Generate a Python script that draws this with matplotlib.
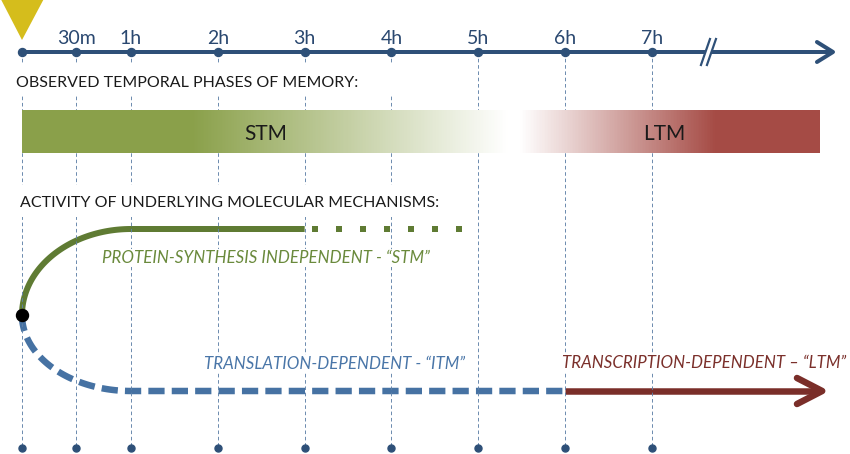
import numpy as np
import matplotlib.pyplot as plt
from matplotlib.colors import to_rgb

# time axis (hours) and labels
tick_hours = [0, 0.5, 1, 2, 3, 4, 5, 6, 7]
tick_labels = ['', '30m', '1h', '2h', '3h', '4h', '5h', '6h', '7h']

# memory phases shown in the gradient bar
phase_labels = ['STM', 'LTM']
phase_hours = [2.55, 7.14]
bar_end = 8.94

# molecular mechanisms (hours)
stm_solid_end = 3.0
stm_dotted_end = 4.88
itm_end = 6.0
ltm_end = 8.96

AXIS = '#2E5078'
GREEN = '#5F7B33'
BLUE = '#4672A3'
RED = '#7A2E29'
BAR_GREEN = '#8AA04A'
BAR_RED = '#A54B45'

PX = 0.72  # points per pixel at 100 dpi


def fwd(h):
    # first hour is drawn wider than the rest
    h = np.asarray(h, dtype=float)
    return np.where(h < 1, 22 + 109 * h, 131 + 86.83 * (h - 1))


def inv(p):
    p = np.asarray(p, dtype=float)
    return np.where(p < 131, (p - 22) / 109, 1 + (p - 131) / 86.83)


plt.rcParams['font.family'] = ['Lato', 'DejaVu Sans']

fig = plt.figure(figsize=(8.5, 4.54), dpi=100)
ax = fig.add_axes([0, 0, 1, 1])
ax.set_xscale('function', functions=(fwd, inv))
ax.set_xlim(float(inv(0)), float(inv(850)))
ax.set_ylim(454, 0)
ax.axis('off')

# start marker
ax.fill([-0.19, 0.195, 0], [0, 0, 40], color='#D5BD1C', lw=0, zorder=5)

# top time axis
ax.plot([0, 9.07], [52, 52], color=AXIS, lw=4 * PX, solid_capstyle='butt', zorder=4)
ax.plot([8.90, 9.085, 8.90], [42, 52, 62], color=AXIS, lw=4 * PX,
        solid_capstyle='round', solid_joinstyle='round', zorder=4)
ax.fill([7.564, 7.668, 7.737, 7.633], [65, 39, 39, 65], color='white', lw=0, zorder=5)
for dx in (0, 0.069):
    ax.plot([7.564 + dx, 7.668 + dx], [65, 39], color=AXIS, lw=2.2 * PX, zorder=6)
ax.plot(tick_hours, [52] * len(tick_hours), 'o', color=AXIS, ms=8 * PX, zorder=6)
for h, lab in zip(tick_hours, tick_labels):
    ax.text(h, 44, lab, ha='center', va='baseline', fontsize=14, color='#2A4870')

# vertical guide lines and bottom dots
ax.vlines(tick_hours, 52, 448, color='#5F81A8', lw=0.9 * PX,
          linestyles=(0, (4, 3)), zorder=3)
ax.plot(tick_hours, [448] * len(tick_hours), 'o', color=AXIS, ms=7 * PX, zorder=6)

# gaps behind headers
x_gap = [float(inv(0)), float(inv(440))]
ax.fill_between(x_gap, 63, 95, color='white', lw=0, zorder=3.5)
ax.fill_between(x_gap, 185, 217, color='white', lw=0, zorder=3.5)

ax.text(float(inv(16)), 87, 'OBSERVED TEMPORAL PHASES OF MEMORY:', fontsize=11.5,
        color='#1A1A1A', va='baseline', zorder=7)
ax.text(float(inv(20)), 207, 'ACTIVITY OF UNDERLYING MOLECULAR MECHANISMS:', fontsize=11.5,
        color='#1A1A1A', va='baseline', zorder=7)

# gradient bar STM -> LTM
stops_h = [0, 1.71, 5.34, 5.48, 7.73, bar_end]
stops_c = np.array([to_rgb(BAR_GREEN), to_rgb(BAR_GREEN), (1, 1, 1), (1, 1, 1),
                    to_rgb(BAR_RED), to_rgb(BAR_RED)])
edges = np.linspace(0, bar_end, 500)
mids = (edges[:-1] + edges[1:]) / 2
cols = np.stack([np.interp(mids, stops_h, stops_c[:, k]) for k in range(3)], axis=-1)
ax.pcolormesh(edges, [110, 153], cols[None, :, :], shading='flat', zorder=4)
for h, lab in zip(phase_hours, phase_labels):
    ax.text(h, 140, lab, ha='center', va='baseline', fontsize=15, color='#1A1A1A', zorder=7)

# protein-synthesis independent (STM)
t = np.linspace(0, np.pi / 2, 80)
gx = np.append(1 - np.cos(t), stm_solid_end)
gy = np.append(315 - 86 * np.sin(t), 229)
ax.plot(gx, gy, color=GREEN, lw=6 * PX, solid_capstyle='butt', zorder=2)
ax.plot([stm_solid_end + 0.09, stm_dotted_end], [229, 229], color=GREEN, lw=6 * PX,
        linestyle=(0, (1, 3.0)), dash_capstyle='butt', zorder=2)

# translation-dependent (ITM)
bx = np.append(1 - np.cos(t), itm_end)
by = np.append(315 + 76 * np.sin(t), 391)
ax.plot(bx, by, color=BLUE, lw=6.5 * PX, linestyle=(0, (2.5, 1.1)),
        dash_capstyle='butt', zorder=2)

# transcription-dependent (LTM)
ax.plot([itm_end, ltm_end - 0.03], [391, 391], color=RED, lw=6.5 * PX,
        solid_capstyle='butt', zorder=2)
ax.plot([8.67, ltm_end, 8.67], [378, 391, 404], color=RED, lw=6.5 * PX,
        solid_capstyle='round', solid_joinstyle='round', zorder=2)

ax.plot([0], [315], 'o', color='black', ms=12 * PX, zorder=8)

box = dict(facecolor='white', edgecolor='none', pad=1)
ax.text(2.55, 263, 'PROTEIN-SYNTHESIS INDEPENDENT - \u201cSTM\u201d', ha='center',
        va='baseline', fontsize=12.2, style='italic',
        color='#6A8A3C', bbox=box, zorder=7)
ax.text(3.34, 369, 'TRANSLATION-DEPENDENT - \u201cITM\u201d', ha='center',
        va='baseline', fontsize=12.2, style='italic',
        color='#4A76A8', bbox=box, zorder=7)
ax.text(7.6, 368, 'TRANSCRIPTION-DEPENDENT \u2013 \u201cLTM\u201d', ha='center',
        va='baseline', fontsize=12.2, style='italic',
        color='#7B302B', bbox=box, zorder=7)

fig.savefig('out.png', dpi=100)
